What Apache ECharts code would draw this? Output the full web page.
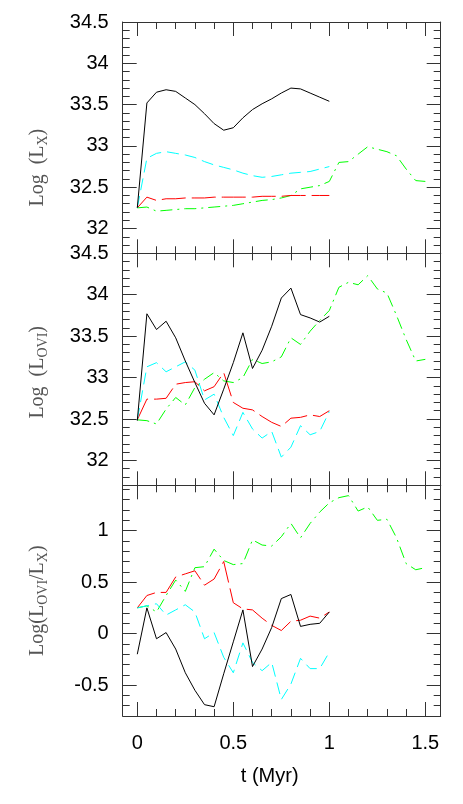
<!DOCTYPE html>
<html>
<head>
<meta charset="utf-8">
<script src="https://cdn.jsdelivr.net/npm/echarts@6/dist/echarts.min.js"></script>
<style>
  html, body { margin: 0; padding: 0; background: #fff; }
  #chart { width: 463px; height: 804px; }
</style>
</head>
<body>
<div id="chart"></div>
<script>
// time (Myr)
const tShort = [0, 0.05, 0.1, 0.15, 0.2, 0.25, 0.3, 0.35, 0.4, 0.45, 0.5, 0.55, 0.6, 0.65, 0.7, 0.75, 0.8, 0.85, 0.9, 0.95, 1.0];
const tLong = [0, 0.05, 0.1, 0.15, 0.2, 0.25, 0.3, 0.35, 0.4, 0.45, 0.5, 0.55, 0.6, 0.65, 0.7, 0.75, 0.8, 0.85, 0.9, 0.95, 1.0,
  1.05, 1.1, 1.15, 1.2, 1.25, 1.3, 1.35, 1.4, 1.45, 1.5];

// panel 1: Log(Lx)
const lxBlack = [32.25, 33.52, 33.65, 33.68, 33.66, 33.58, 33.50, 33.39, 33.27, 33.19, 33.22, 33.34, 33.44, 33.51, 33.57, 33.64, 33.70, 33.69, 33.64, 33.59, 33.54];
const lxCyan = [32.25, 32.85, 32.91, 32.93, 32.91, 32.89, 32.86, 32.81, 32.77, 32.74, 32.71, 32.67, 32.64, 32.62, 32.63, 32.65, 32.67, 32.68, 32.69, 32.72, 32.75];
const lxRed = [32.25, 32.38, 32.34, 32.36, 32.36, 32.37, 32.37, 32.37, 32.38, 32.38, 32.38, 32.38, 32.38, 32.39, 32.39, 32.39, 32.40, 32.40, 32.40, 32.40, 32.40];
const lxGreen = [32.25, 32.26, 32.21, 32.22, 32.23, 32.24, 32.24, 32.25, 32.26, 32.27, 32.28, 32.30, 32.32, 32.34, 32.35, 32.37, 32.40, 32.48, 32.50, 32.52, 32.57,
  32.80, 32.81, 32.90, 32.99, 32.96, 32.93, 32.88, 32.72, 32.58, 32.57];

// panel 2: Log(L_OVI)
const loviBlack = [32.48, 33.77, 33.58, 33.68, 33.48, 33.20, 32.94, 32.69, 32.55, 32.86, 33.18, 33.54, 33.11, 33.33, 33.62, 33.96, 34.08, 33.76, 33.72, 33.67, 33.74];
const loviCyan = [32.49, 33.13, 33.18, 33.07, 33.13, 33.19, 33.09, 32.73, 32.80, 32.52, 32.30, 32.58, 32.38, 32.27, 32.35, 32.04, 32.16, 32.42, 32.31, 32.35, 32.59];
const loviRed = [32.49, 32.74, 32.74, 32.75, 32.92, 32.94, 32.95, 32.84, 32.89, 33.06, 32.70, 32.63, 32.61, 32.53, 32.46, 32.41, 32.51, 32.52, 32.55, 32.53, 32.60];
const loviGreen = [32.49, 32.48, 32.44, 32.62, 32.76, 32.67, 32.88, 32.98, 33.06, 32.96, 32.94, 33.00, 33.22, 33.17, 33.19, 33.25, 33.48, 33.40, 33.56, 33.69, 33.81,
  34.09, 34.15, 34.12, 34.23, 34.07, 34.02, 33.75, 33.46, 33.20, 33.22];

// panel 3: Log(L_OVI/Lx)
const ratioBlack = [-0.20, 0.25, -0.05, 0.01, -0.15, -0.38, -0.55, -0.69, -0.71, -0.39, -0.08, 0.23, -0.32, -0.15, 0.06, 0.34, 0.38, 0.07, 0.09, 0.10, 0.21];
const ratioCyan = [0.25, 0.27, 0.29, 0.18, 0.23, 0.28, 0.21, -0.05, 0.01, -0.23, -0.38, -0.09, -0.28, -0.36, -0.28, -0.64, -0.49, -0.24, -0.34, -0.34, -0.18];
const ratioRed = [0.25, 0.37, 0.40, 0.40, 0.55, 0.58, 0.61, 0.47, 0.53, 0.70, 0.30, 0.24, 0.23, 0.15, 0.08, 0.03, 0.12, 0.13, 0.17, 0.15, 0.21];
const ratioGreen = [0.25, 0.27, 0.21, 0.37, 0.52, 0.41, 0.64, 0.65, 0.82, 0.71, 0.67, 0.68, 0.91, 0.86, 0.85, 0.94, 1.07, 0.93, 1.07, 1.18, 1.27,
  1.32, 1.34, 1.19, 1.23, 1.10, 1.11, 0.93, 0.68, 0.62, 0.64];

// ticks
const xMajor = [0, 0.5, 1, 1.5];
const xMinor = [0.1, 0.2, 0.3, 0.4, 0.6, 0.7, 0.8, 0.9, 1.1, 1.2, 1.3, 1.4];
const lumMajor = [32, 32.5, 33, 33.5, 34, 34.5];
const lumMinor = [31.8, 31.9, 32.1, 32.2, 32.3, 32.4, 32.6, 32.7, 32.8, 32.9, 33.1, 33.2, 33.3, 33.4, 33.6, 33.7, 33.8, 33.9, 34.1, 34.2, 34.3, 34.4];
const ratioMajor = [-0.5, 0, 0.5, 1];
const ratioMinor = [-0.7, -0.6, -0.4, -0.3, -0.2, -0.1, 0.1, 0.2, 0.3, 0.4, 0.6, 0.7, 0.8, 0.9, 1.1, 1.2, 1.3, 1.4];

const xMin = -0.076, xMax = 1.58;
const frameColor = '#333';
const labelFont = { fontFamily: 'Liberation Sans, Arial, sans-serif', fontSize: 20, color: '#000' };
const nameFont = {
  fontFamily: 'Liberation Serif, Times New Roman, serif', color: '#555',
  rich: {
    n: { fontFamily: 'Liberation Serif, serif', fontSize: 20, color: '#555' },
    s: { fontFamily: 'Liberation Serif, serif', fontSize: 14, color: '#555', padding: [12, 0, 0, 0] }
  }
};

const panels = [
  { top: 22, height: 231.3, min: 31.7, max: 34.5, major: lumMajor, minor: lumMinor,
    name: '{n|Log  (L}{s|X}{n|)}', namePad: [0, 60, 0, 0] },
  { top: 253.3, height: 232, min: 31.7, max: 34.5, major: lumMajor, minor: lumMinor,
    name: '{n|Log  (L}{s|OVI}{n|)}', namePad: [0, 6, 0, 0] },
  { top: 485.3, height: 230.7, min: -0.8, max: 1.44, major: ratioMajor, minor: ratioMinor,
    name: '{n|Log(L}{s|OVI}{n|/L}{s|X}{n|)}', namePad: [0, 0, 0, 0] }
];

const grids = [], xAxes = [], yAxes = [];
panels.forEach((p, gi) => {
  grids.push({ left: 122.7, right: 22.3, top: p.top, height: p.height, outerBoundsMode: 'none' });

  ['bottom', 'top'].forEach(pos => {
    const base = { gridIndex: gi, type: 'value', min: xMin, max: xMax, position: pos, splitLine: { show: false } };
    const isLabelled = gi === 2 && pos === 'bottom';
    xAxes.push(Object.assign({}, base, {
      axisLine: { show: true, onZero: false, lineStyle: { color: frameColor, width: 1 } },
      axisTick: { show: true, inside: true, length: 14, customValues: xMajor, lineStyle: { color: frameColor } },
      axisLabel: Object.assign({ show: isLabelled, customValues: xMajor, margin: 17 }, labelFont),
      name: isLabelled ? 't (Myr)' : '',
      nameLocation: 'middle',
      nameGap: 50,
      nameTextStyle: Object.assign({ padding: [0, 24, 0, 0] }, labelFont)
    }));
    xAxes.push(Object.assign({}, base, {
      axisLine: { show: false, onZero: false },
      axisTick: { show: true, inside: true, length: 7, customValues: xMinor, lineStyle: { color: frameColor } },
      axisLabel: { show: false }
    }));
  });

  ['left', 'right'].forEach(pos => {
    const base = { gridIndex: gi, type: 'value', min: p.min, max: p.max, position: pos, splitLine: { show: false } };
    const isLabelled = pos === 'left';
    yAxes.push(Object.assign({}, base, {
      axisLine: { show: true, onZero: false, lineStyle: { color: frameColor, width: 1 } },
      axisTick: { show: true, inside: true, length: 14, customValues: p.major, lineStyle: { color: frameColor } },
      axisLabel: Object.assign({ show: isLabelled, customValues: p.major, margin: 14, padding: [10, 0, 0, 0] }, labelFont),
      name: isLabelled ? p.name : '',
      nameLocation: 'middle',
      nameRotate: 90,
      nameGap: 72,
      nameTextStyle: Object.assign({ padding: p.namePad }, nameFont)
    }));
    yAxes.push(Object.assign({}, base, {
      axisLine: { show: false, onZero: false },
      axisTick: { show: true, inside: true, length: 7, customValues: p.minor, lineStyle: { color: frameColor } },
      axisLabel: { show: false }
    }));
  });
});

function pairs(ts, vals) {
  return vals.map((v, i) => [ts[i], v]);
}

const styles = {
  black: { color: '#000000', width: 1, type: 'solid' },
  cyan: { color: '#00ffff', width: 1, type: [12, 6] },
  red: { color: '#ff0000', width: 1, type: [24, 6] },
  green: { color: '#00ff00', width: 1, type: [12, 5, 2, 5] }
};

const panelData = [
  { black: lxBlack, cyan: lxCyan, red: lxRed, green: lxGreen },
  { black: loviBlack, cyan: loviCyan, red: loviRed, green: loviGreen },
  { black: ratioBlack, cyan: ratioCyan, red: ratioRed, green: ratioGreen }
];

const series = [];
panelData.forEach((d, gi) => {
  ['green', 'red', 'cyan', 'black'].forEach(key => {
    series.push({
      type: 'line',
      xAxisIndex: gi * 4,
      yAxisIndex: gi * 4,
      data: pairs(key === 'green' ? tLong : tShort, d[key]),
      showSymbol: false,
      symbol: 'none',
      lineStyle: styles[key],
      silent: true
    });
  });
});

const chart = echarts.init(document.getElementById('chart'));
chart.setOption({
  animation: false,
  backgroundColor: '#fff',
  grid: grids,
  xAxis: xAxes,
  yAxis: yAxes,
  series: series
});
</script>
</body>
</html>
